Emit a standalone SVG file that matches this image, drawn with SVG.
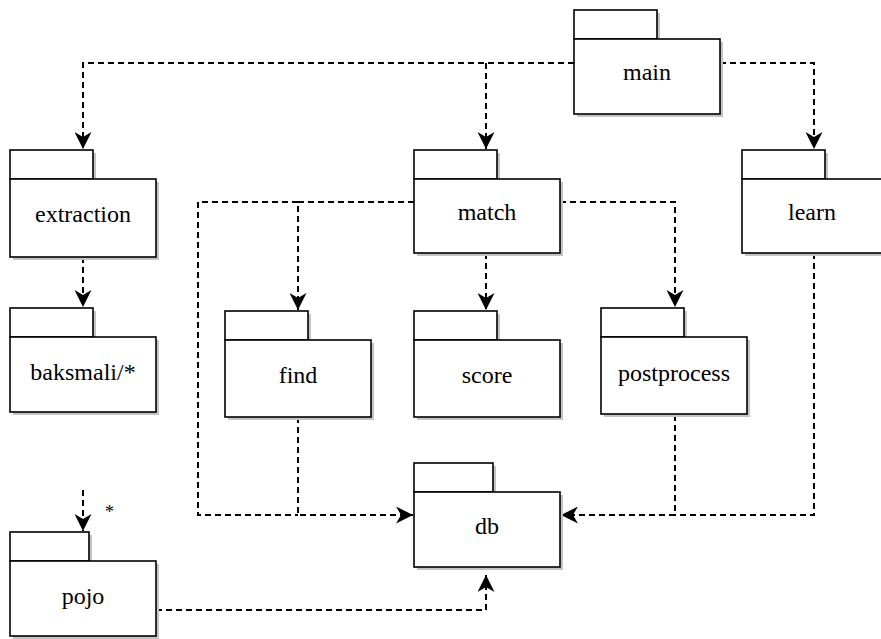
<svg xmlns="http://www.w3.org/2000/svg" width="881" height="639" viewBox="0 0 881 639">
<style>
.sh{fill:#c4c4c4;stroke:none}
.bx{fill:#ffffff;stroke:#000000;stroke-width:1.6}
.lb{font-family:'Liberation Serif','Times New Roman',serif;font-size:24px;fill:#000000;text-anchor:middle}
.sm{font-family:'Liberation Serif','Times New Roman',serif;font-size:18px;fill:#000000}
.cn{fill:none;stroke:#000000;stroke-width:2;stroke-dasharray:6 4}
</style>
<defs>
<marker id="ar" markerUnits="userSpaceOnUse" markerWidth="17" markerHeight="17" viewBox="0 0 17 17" refX="17" refY="8.5" orient="auto">
<path d="M0,0 L17,8.5 L0,17 L5,8.5 Z" fill="#000000"/>
</marker>
</defs>
<rect width="881" height="639" fill="#ffffff"/>
<g id="connectors">
<path class="cn" d="M574,63 H83 V149" marker-end="url(#ar)"/>
<path class="cn" d="M486,63 V149" marker-end="url(#ar)"/>
<path class="cn" d="M720,63 H814 V149" marker-end="url(#ar)"/>
<path class="cn" d="M83,257 V307" marker-end="url(#ar)"/>
<path class="cn" d="M414,202 H298 V310" marker-end="url(#ar)"/>
<path class="cn" d="M486,253 V310" marker-end="url(#ar)"/>
<path class="cn" d="M560,202 H675 V307" marker-end="url(#ar)"/>
<path class="cn" d="M298,202 H198 V515 H298"/>
<path class="cn" d="M298,417 V515 H413" marker-end="url(#ar)"/>
<path class="cn" d="M675,415 V515 H561" marker-end="url(#ar)"/>
<path class="cn" d="M814,253 V515 H675"/>
<path class="cn" d="M83,490 V531" marker-end="url(#ar)"/>
<path class="cn" d="M156,610 H486 V575" marker-end="url(#ar)"/>
<text class="sm" x="105" y="518">*</text>
</g>
<g id="main">
<rect class="sh" x="577" y="13" width="83" height="29"/>
<rect class="sh" x="577" y="42" width="146" height="75"/>
<rect class="bx" x="574" y="10" width="83" height="29"/>
<rect class="bx" x="574" y="39" width="146" height="75"/>
<text class="lb" x="647" y="80">main</text>
</g>
<g id="extraction">
<rect class="sh" x="13" y="153" width="83" height="29"/>
<rect class="sh" x="13" y="182" width="146" height="78"/>
<rect class="bx" x="10" y="150" width="83" height="29"/>
<rect class="bx" x="10" y="179" width="146" height="78"/>
<text class="lb" x="83" y="222">extraction</text>
</g>
<g id="match">
<rect class="sh" x="417" y="153" width="83" height="29"/>
<rect class="sh" x="417" y="182" width="146" height="74"/>
<rect class="bx" x="414" y="150" width="83" height="29"/>
<rect class="bx" x="414" y="179" width="146" height="74"/>
<text class="lb" x="487" y="220">match</text>
</g>
<g id="learn">
<rect class="sh" x="745" y="153" width="83" height="29"/>
<rect class="sh" x="745" y="182" width="146" height="74"/>
<rect class="bx" x="742" y="150" width="83" height="29"/>
<rect class="bx" x="742" y="179" width="146" height="74"/>
<text class="lb" x="812" y="220">learn</text>
</g>
<g id="baksmali">
<rect class="sh" x="13" y="311" width="83" height="29"/>
<rect class="sh" x="13" y="340" width="146" height="75"/>
<rect class="bx" x="10" y="308" width="83" height="29"/>
<rect class="bx" x="10" y="337" width="146" height="75"/>
<text class="lb" x="83" y="380">baksmali/*</text>
</g>
<g id="find">
<rect class="sh" x="228" y="314" width="83" height="29"/>
<rect class="sh" x="228" y="343" width="146" height="77"/>
<rect class="bx" x="225" y="311" width="83" height="29"/>
<rect class="bx" x="225" y="340" width="146" height="77"/>
<text class="lb" x="298" y="383">find</text>
</g>
<g id="score">
<rect class="sh" x="417" y="314" width="83" height="29"/>
<rect class="sh" x="417" y="343" width="146" height="77"/>
<rect class="bx" x="414" y="311" width="83" height="29"/>
<rect class="bx" x="414" y="340" width="146" height="77"/>
<text class="lb" x="487" y="383">score</text>
</g>
<g id="postprocess">
<rect class="sh" x="604" y="311" width="83" height="29"/>
<rect class="sh" x="604" y="340" width="146" height="77"/>
<rect class="bx" x="601" y="308" width="83" height="29"/>
<rect class="bx" x="601" y="337" width="146" height="77"/>
<text class="lb" x="674" y="381">postprocess</text>
</g>
<g id="db">
<rect class="sh" x="417" y="466" width="79" height="29"/>
<rect class="sh" x="417" y="495" width="146" height="75"/>
<rect class="bx" x="414" y="463" width="79" height="29"/>
<rect class="bx" x="414" y="492" width="146" height="75"/>
<text class="lb" x="487" y="534">db</text>
</g>
<g id="pojo">
<rect class="sh" x="13" y="535" width="79" height="29"/>
<rect class="sh" x="13" y="564" width="146" height="75"/>
<rect class="bx" x="10" y="532" width="79" height="29"/>
<rect class="bx" x="10" y="561" width="146" height="75"/>
<text class="lb" x="83" y="604">pojo</text>
</g>
</svg>
